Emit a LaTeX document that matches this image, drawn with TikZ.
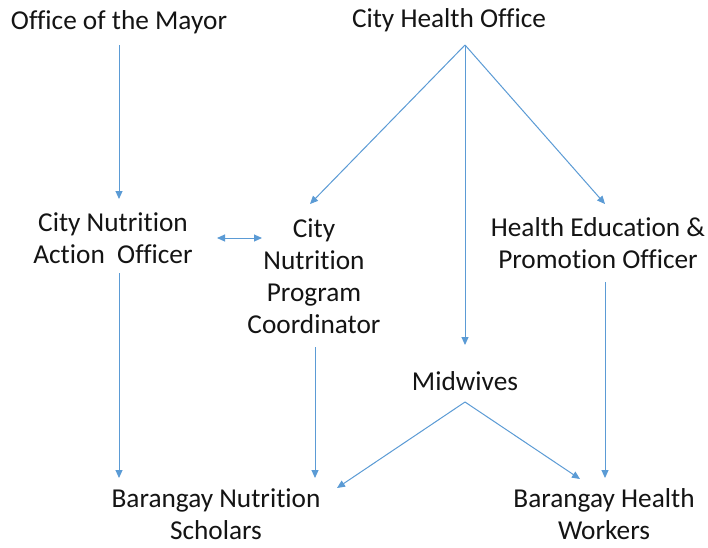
\documentclass[tikz,border=0pt]{standalone}
\usepackage{fontspec}
\setmainfont[Ligatures=CommonOff]{Carlito}
\usetikzlibrary{arrows.meta}
\definecolor{arrowblue}{HTML}{5B9BD5}
\definecolor{txt}{HTML}{141414}
\begin{document}
\begin{tikzpicture}[x=1pt,y=-1pt,
  lbl/.style={align=center,inner sep=0pt,text=txt,font=\fontsize{27.3}{32}\selectfont},
  conn/.style={draw=arrowblue,line width=1pt,-{Triangle[length=8pt,width=7pt]}},
  dconn/.style={draw=arrowblue,line width=1pt,{Triangle[length=8pt,width=7pt]}-{Triangle[length=8pt,width=7pt]}}]
\useasboundingbox (0,0) rectangle (708,547);
\fill[white] (0,0) rectangle (708,547);
\node[lbl] (mayor) at (119,22) {Office of the Mayor};
\node[lbl] (cho) at (449,20) {City Health Office};
\node[lbl] (cnao) at (113,238) {City Nutrition\\Action~~Officer};
\node[lbl] (cnpc) at (314,276) {City\\Nutrition\\Program\\Coordinator};
\node[lbl] (hepo) at (598,243) {Health Education \&\\Promotion Officer};
\node[lbl] (mid) at (465,381) {Midwives};
\node[lbl] (bns) at (216,514) {Barangay Nutrition\\Scholars};
\node[lbl] (bhw) at (604,514) {Barangay Health\\Workers};
% connector end points
\coordinate (mayorS) at (119,45);
\coordinate (cnaoN) at (119,199);
\coordinate (choS) at (465,45);
\coordinate (cnpcN) at (310,204);
\coordinate (midN) at (465,345);
\coordinate (hepoN) at (605,204);
\coordinate (cnaoE) at (217,238);
\coordinate (cnpcW) at (262,238);
\coordinate (cnaoS) at (119,273);
\coordinate (bnsNW) at (119,478);
\coordinate (cnpcS) at (315,347);
\coordinate (bnsN) at (315,478);
\coordinate (hepoS) at (605,282);
\coordinate (bhwN) at (605,478);
\coordinate (midS) at (465,402);
\coordinate (bnsNE) at (337,488);
\coordinate (bhwNW) at (580,479);
\draw[conn] (mayorS) -- (cnaoN);
\draw[conn] (choS) -- (cnpcN);
\draw[conn] (choS) -- (midN);
\draw[conn] (choS) -- (hepoN);
\draw[dconn] (cnaoE) -- (cnpcW);
\draw[conn] (cnaoS) -- (bnsNW);
\draw[conn] (cnpcS) -- (bnsN);
\draw[conn] (hepoS) -- (bhwN);
\draw[conn] (midS) -- (bnsNE);
\draw[conn] (midS) -- (bhwNW);
\end{tikzpicture}
\end{document}
